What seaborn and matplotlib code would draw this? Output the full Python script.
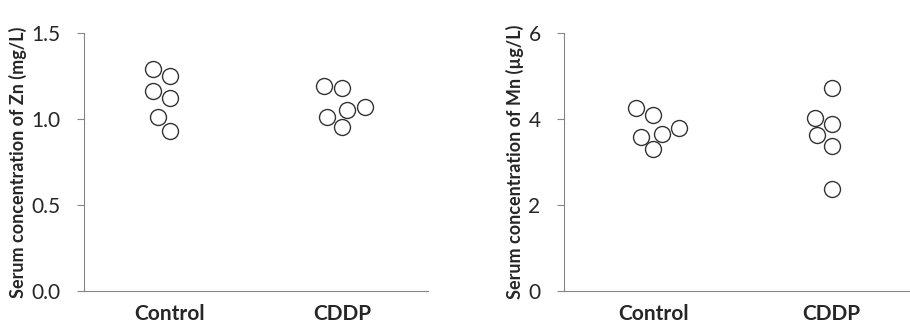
import pandas as pd
import matplotlib.pyplot as plt
import seaborn as sns

# values
groups = ['Control', 'CDDP']
zn_control = [1.29, 1.25, 1.165, 1.124, 1.01, 0.932]
zn_cddp = [1.19, 1.18, 1.072, 1.05, 1.012, 0.953]
mn_control = [4.25, 4.10, 3.80, 3.65, 3.59, 3.30]
mn_cddp = [4.73, 4.03, 3.88, 3.62, 3.37, 2.37]

zn = pd.DataFrame({'group': [groups[0]] * len(zn_control) + [groups[1]] * len(zn_cddp),
                   'value': zn_control + zn_cddp})
mn = pd.DataFrame({'group': [groups[0]] * len(mn_control) + [groups[1]] * len(mn_cddp),
                   'value': mn_control + mn_cddp})

sns.set_style('white')
plt.rcParams['font.family'] = ['Lato', 'DejaVu Sans']

fig = plt.figure(figsize=(9.1, 3.29), dpi=100)
ax1 = fig.add_axes([0.0923, 0.1155, 0.378, 0.7842])
ax2 = fig.add_axes([0.620, 0.1155, 0.380, 0.7842])

spine_col = '#858585'

def draw(ax, df, ylim, yticks, ylabel, xmax):
    sns.swarmplot(data=df, x='group', y='value', order=groups, ax=ax,
                  size=11.5, color='white', edgecolor='#333333', linewidth=1)
    ax.set_ylim(*ylim)
    ax.set_xlim(-0.5, xmax)
    ax.set_yticks(yticks[0])
    ax.set_yticklabels(yticks[1], fontsize=15)
    ax.set_xlabel('')
    ax.set_ylabel(ylabel, fontsize=13, fontweight='bold', labelpad=3)
    for lab in ax.get_xticklabels():
        lab.set_fontweight('bold')
        lab.set_fontsize(15)
    ax.spines['top'].set_visible(False)
    ax.spines['right'].set_visible(False)
    ax.spines['left'].set_color(spine_col)
    ax.spines['bottom'].set_color(spine_col)
    ax.tick_params(axis='y', direction='out', length=5, color=spine_col, left=True, pad=12)
    ax.tick_params(axis='x', length=0, pad=9)

draw(ax1, zn, (0, 1.5), ([0, 0.5, 1.0, 1.5], ['0.0', '0.5', '1.0', '1.5']),
     'Serum concentration of Zn (mg/L)', 1.5)
draw(ax2, mn, (0, 6), ([0, 2, 4, 6], ['0', '2', '4', '6']),
     'Serum concentration of Mn (µg/L)', 1.44)

for ax in (ax1, ax2):
    for c in ax.collections:
        c.set_clip_on(False)

fig.savefig('out.png', dpi=100)
